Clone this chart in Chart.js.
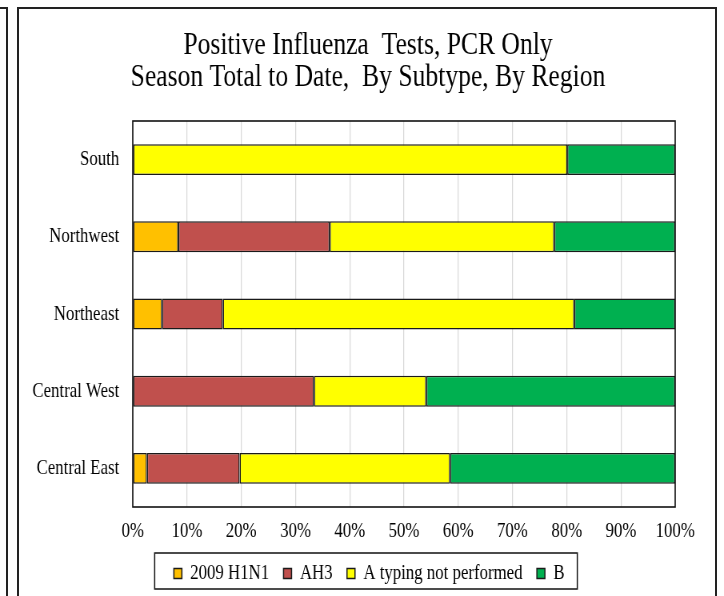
<!DOCTYPE html>
<html>
<head>
<meta charset="utf-8">
<script src="https://cdn.jsdelivr.net/npm/chart.js@4.4.1/dist/chart.umd.min.js"></script>
<style>
  body { margin: 0; background: #fff; }
  #prev { position: absolute; left: -10px; top: 7px; width: 16px; height: 700px; border-top: 2px solid #222; border-right: 2px solid #222; }
  #frame { position: absolute; left: 17px; top: 7px; width: 696px; height: 700px; border: 2px solid #222; }
  #myChart { position: absolute; left: 0; top: 0; }
</style>
</head>
<body>
<div id="prev"></div>
<div id="frame"></div>
<canvas id="myChart" width="905" height="596" style="width:724px;height:596px"></canvas>
<script>
const regions = ['South', 'Northwest', 'Northeast', 'Central West', 'Central East'];
const h1n1 = [0, 8.4, 5.4, 0, 2.6];
const ah3 = [0, 27.9, 11.2, 33.4, 17.1];
const notTyped = [80.1, 41.4, 64.8, 20.7, 38.8];
const typeB = [19.9, 22.3, 18.6, 45.9, 41.5];
const titleLines = ['Positive Influenza  Tests, PCR Only', 'Season Total to Date,  By Subtype, By Region'];

const serif = '"Liberation Serif", "Times New Roman", serif';
const ctx = document.getElementById('myChart').getContext('2d');

// title, plot border and legend box are drawn by hand
const framePlugin = {
  id: 'frame',
  afterDraw(chart) {
    const c = chart.ctx;
    const a = chart.chartArea;
    c.save();
    c.fillStyle = '#000';
    c.font = '32px ' + serif;
    c.textAlign = 'center';
    c.textBaseline = 'alphabetic';
    c.fillText(titleLines[0], 460, 54);
    c.fillText(titleLines[1], 460, 86);

    c.strokeStyle = '#111';
    c.lineWidth = 1.6;
    c.strokeRect(a.left, a.top, a.right - a.left, a.bottom - a.top);

    const boxes = chart.legend.legendHitBoxes;
    if (boxes.length) {
      const first = boxes[0];
      const last = boxes[boxes.length - 1];
      const l = first.left - 24;
      const r = last.left + last.width + 16;
      c.lineWidth = 1.5;
      c.strokeRect(l, first.top - 10, r - l, first.height + 15);
    }
    c.restore();
  }
};

function makeSet(label, data, color){
  return {
    label: label,
    data: data,
    backgroundColor: color,
    borderColor: '#1a1a1a',
    borderWidth: 1.5,
    borderSkipped: false,
    categoryPercentage: 0.8,
    barPercentage: 0.5
  };
}

const myChart = new Chart(ctx, {
  type: 'bar',
  data: {
    labels: regions,
    datasets: [
      makeSet('2009 H1N1', h1n1, '#FFC000'),
      makeSet('AH3', ah3, '#C0504D'),
      makeSet('A typing not performed', notTyped, '#FFFF00'),
      makeSet('B', typeB, '#00B050')
    ]
  },
  options: {
    responsive: false,
    devicePixelRatio: 1,
    animation: false,
    indexAxis: 'y',
    layout: {
      padding: { left: 40, right: 22, top: 121, bottom: 2 }
    },
    scales: {
      x: {
        stacked: true,
        min: 0,
        max: 100,
        ticks: {
          stepSize: 10,
          padding: 12,
          color: '#000',
          font: { family: serif, size: 21 },
          callback: function(v){ return v + '%'; }
        },
        grid: { color: '#d9d9d9', lineWidth: 1.25, drawTicks: false },
        border: { display: false },
        afterFit: function(scale){ scale.height = 38; }
      },
      y: {
        stacked: true,
        ticks: {
          padding: 17,
          color: '#000',
          font: { family: serif, size: 21 }
        },
        grid: { display: false, drawTicks: false },
        border: { display: false },
        afterFit: function(scale){ scale.width = 126; }
      },
      // empty spacer on the right so the legend sits centred like the original
      y2: {
        type: 'category',
        position: 'right',
        ticks: { display: false },
        grid: { display: false, drawTicks: false },
        border: { display: false },
        afterFit: function(scale){ scale.width = 39; }
      }
    },
    plugins: {
      legend: {
        position: 'bottom',
        labels: {
          color: '#000',
          font: { family: serif, size: 21 },
          boxWidth: 10,
          boxHeight: 10,
          padding: 18
        }
      },
      tooltip: { enabled: false }
    }
  },
  plugins: [framePlugin]
});
</script>
</body>
</html>
